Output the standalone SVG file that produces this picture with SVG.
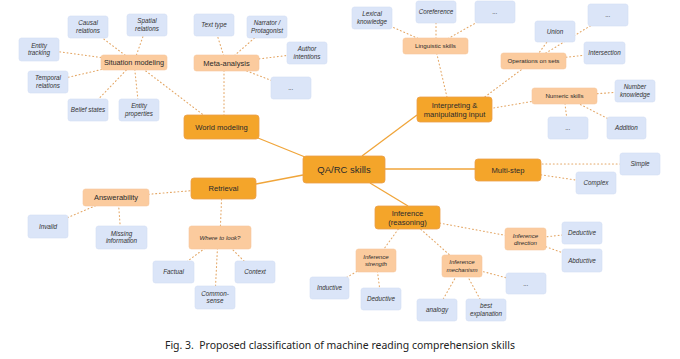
<svg xmlns="http://www.w3.org/2000/svg" width="680" height="359" viewBox="0 0 680 359">
<style>
text{font-family:"Liberation Sans",Arial,sans-serif;fill:#2a2a2a;text-anchor:middle}
.m rect{fill:#F4A52A;stroke:#EBA04A;stroke-width:0.8}
.m text{font-size:7.6px}
.s rect{fill:#FBCB9E;stroke:#F6C79E;stroke-width:0.6}
.s text{font-size:7.5px}
.s2 text{font-size:6.2px}
.si text{font-size:6.1px;font-style:italic}
.l rect{fill:#DBE5F8;stroke:#D3DEF4;stroke-width:0.6}
.l text{font-size:6.3px;font-style:italic;fill:#333}
.dot{stroke:#E4A868;stroke-width:1.1;stroke-dasharray:0.9 2.8;stroke-linecap:round;fill:none}
.sol{stroke:#F0A53A;stroke-width:1.3;fill:none}
.cap{font-family:"Noto Sans","Open Sans",sans-serif;font-size:10.5px;fill:#222;text-anchor:start}
</style>
<rect width="680" height="359" fill="#ffffff"/>
<g id="connectors">
<g class="sol">
<line x1="258" y1="138" x2="305" y2="157"/>
<line x1="417" y1="115" x2="362" y2="156"/>
<line x1="256" y1="184" x2="303" y2="175"/>
<line x1="385" y1="169" x2="475" y2="169"/>
<line x1="370" y1="183" x2="408" y2="206"/>
</g>
<g class="dot">
<line x1="134" y1="62" x2="88" y2="27"/>
<line x1="134" y1="62" x2="147" y2="25"/>
<line x1="134" y1="62" x2="39" y2="49"/>
<line x1="134" y1="62" x2="48" y2="82"/>
<line x1="134" y1="62" x2="88" y2="110"/>
<line x1="134" y1="62" x2="139" y2="110"/>
<line x1="134" y1="62" x2="210" y2="120"/>
<line x1="226" y1="63" x2="214" y2="25"/>
<line x1="226" y1="63" x2="267" y2="27"/>
<line x1="226" y1="63" x2="307" y2="53"/>
<line x1="226" y1="63" x2="291" y2="88"/>
<line x1="224" y1="63" x2="224" y2="127"/>
<line x1="435" y1="46" x2="372" y2="18"/>
<line x1="436" y1="46" x2="436" y2="12"/>
<line x1="435" y1="46" x2="495" y2="12"/>
<line x1="435" y1="46" x2="450" y2="110"/>
<line x1="533" y1="61" x2="555" y2="31"/>
<line x1="533" y1="61" x2="608" y2="15"/>
<line x1="533" y1="61" x2="604" y2="53"/>
<line x1="533" y1="61" x2="470" y2="108"/>
<line x1="564" y1="96" x2="635" y2="91"/>
<line x1="564" y1="96" x2="568" y2="128"/>
<line x1="564" y1="96" x2="626" y2="128"/>
<line x1="564" y1="96" x2="470" y2="112"/>
<line x1="520" y1="164" x2="640" y2="164"/>
<line x1="508" y1="170" x2="596" y2="183"/>
<line x1="407" y1="217" x2="525" y2="239"/>
<line x1="407" y1="217" x2="376" y2="260"/>
<line x1="407" y1="217" x2="462" y2="266"/>
<line x1="525" y1="239" x2="582" y2="233"/>
<line x1="525" y1="239" x2="582" y2="260"/>
<line x1="376" y1="260" x2="329" y2="288"/>
<line x1="376" y1="260" x2="381" y2="299"/>
<line x1="462" y1="266" x2="437" y2="310"/>
<line x1="462" y1="266" x2="486" y2="310"/>
<line x1="462" y1="266" x2="526" y2="283"/>
<line x1="223" y1="188" x2="116" y2="197"/>
<line x1="222" y1="188" x2="220" y2="237"/>
<line x1="116" y1="197" x2="48" y2="226"/>
<line x1="118" y1="197" x2="121" y2="237"/>
<line x1="220" y1="237" x2="173" y2="272"/>
<line x1="218" y1="237" x2="215" y2="297"/>
<line x1="220" y1="237" x2="255" y2="272"/>
</g>
</g>
<g id="qarc" class="m"><rect x="303" y="156" width="82" height="27" rx="3"/><text x="344" y="173" style="font-size:9.5px">QA/RC skills</text></g>
<g id="world" class="m"><rect x="184" y="115" width="75" height="24" rx="3"/><text x="221.5" y="129.7">World modeling</text></g>
<g id="interp" class="m"><rect x="417" y="97" width="75" height="25" rx="3"/><text x="454.5" y="107.5">Interpreting &amp;</text><text x="454.5" y="116.5">manipulating input</text></g>
<g id="retrieval" class="m"><rect x="191" y="178" width="65" height="21" rx="3"/><text x="223.5" y="191.2">Retrieval</text></g>
<g id="multistep" class="m"><rect x="475" y="159" width="66" height="22" rx="3"/><text x="508" y="172.7">Multi-step</text></g>
<g id="inference" class="m"><rect x="375" y="206" width="65" height="23" rx="3"/><text x="407.5" y="215.8">Inference</text><text x="407.5" y="224.8">(reasoning)</text></g>
<g id="situation" class="s"><rect x="101" y="55" width="66" height="15" rx="2.5"/><text x="134" y="65.2" style="font-size:7.3px">Situation modeling</text></g>
<g id="meta" class="s"><rect x="194" y="55" width="65" height="16" rx="2.5"/><text x="226.5" y="65.7">Meta-analysis</text></g>
<g id="answerability" class="s"><rect x="83" y="189" width="66" height="17" rx="2.5"/><text x="116" y="200.2">Answerability</text></g>
<g id="linguistic" class="s s2"><rect x="403" y="38" width="65" height="16" rx="2.5"/><text x="435.5" y="48.2">Linguistic skills</text></g>
<g id="ops" class="s s2"><rect x="501" y="53" width="65" height="16" rx="2.5"/><text x="533.5" y="63.2">Operations on sets</text></g>
<g id="numeric" class="s s2"><rect x="532" y="88" width="65" height="16" rx="2.5"/><text x="564.5" y="98.2">Numeric skills</text></g>
<g id="where" class="s si"><rect x="189" y="226" width="62" height="23" rx="2.5"/><text x="220" y="239.6">Where to look?</text></g>
<g id="infdir" class="s si"><rect x="505" y="228" width="41" height="22" rx="2.5"/><text x="525.5" y="237.5">Inference</text><text x="525.5" y="245">direction</text></g>
<g id="infstr" class="s si"><rect x="356" y="249" width="40" height="23" rx="2.5"/><text x="376" y="258.6">Inference</text><text x="376" y="266.2">strength</text></g>
<g id="infmech" class="s si"><rect x="442" y="255" width="40" height="22" rx="2.5"/><text x="462" y="264.2">Inference</text><text x="462" y="271.7">mechanism</text></g>
<g id="causal" class="l"><rect x="68" y="16" width="40" height="22" rx="2.5"/><text x="88" y="25.3">Causal</text><text x="88" y="32.8">relations</text></g>
<g id="spatial" class="l"><rect x="127" y="14" width="40" height="22" rx="2.5"/><text x="147" y="23.3">Spatial</text><text x="147" y="30.8">relations</text></g>
<g id="enttrack" class="l"><rect x="19" y="38" width="40" height="23" rx="2.5"/><text x="39" y="47.6">Entity</text><text x="39" y="55.1">tracking</text></g>
<g id="temporal" class="l"><rect x="28" y="71" width="40" height="22" rx="2.5"/><text x="48" y="80.3">Temporal</text><text x="48" y="87.8">relations</text></g>
<g id="belief" class="l"><rect x="68" y="99" width="40" height="22" rx="2.5"/><text x="88" y="112.2">Belief states</text></g>
<g id="entprop" class="l"><rect x="119" y="99" width="40" height="22" rx="2.5"/><text x="139" y="108.3">Entity</text><text x="139" y="115.8">properties</text></g>
<g id="texttype" class="l"><rect x="194" y="14" width="40" height="22" rx="2.5"/><text x="214" y="27.2">Text type</text></g>
<g id="narrator" class="l"><rect x="247" y="16" width="40" height="22" rx="2.5"/><text x="267" y="25.3">Narrator /</text><text x="267" y="32.8">Protagonist</text></g>
<g id="author" class="l"><rect x="287" y="42" width="40" height="22" rx="2.5"/><text x="307" y="51.3">Author</text><text x="307" y="58.8">intentions</text></g>
<g id="metaetc" class="l"><rect x="271" y="77" width="40" height="22" rx="2.5"/><text x="291" y="90.2">...</text></g>
<g id="lexical" class="l"><rect x="352" y="7" width="40" height="22" rx="2.5"/><text x="372" y="16.3">Lexical</text><text x="372" y="23.8">knowledge</text></g>
<g id="coref" class="l"><rect x="416" y="1" width="40" height="22" rx="2.5"/><text x="436" y="14.2">Coreference</text></g>
<g id="lingetc" class="l"><rect x="475" y="1" width="40" height="22" rx="2.5"/><text x="495" y="14.2">...</text></g>
<g id="union" class="l"><rect x="535" y="21" width="40" height="21" rx="2.5"/><text x="555" y="33.7">Union</text></g>
<g id="opsetc" class="l"><rect x="588" y="4" width="40" height="22" rx="2.5"/><text x="608" y="17.2">...</text></g>
<g id="intersection" class="l"><rect x="584" y="42" width="41" height="22" rx="2.5"/><text x="604.5" y="55.2">Intersection</text></g>
<g id="numknow" class="l"><rect x="615" y="80" width="40" height="22" rx="2.5"/><text x="635" y="89.3">Number</text><text x="635" y="96.8">knowledge</text></g>
<g id="numetc" class="l"><rect x="548" y="117" width="40" height="22" rx="2.5"/><text x="568" y="130.2">...</text></g>
<g id="addition" class="l"><rect x="607" y="117" width="39" height="22" rx="2.5"/><text x="626.5" y="130.2">Addition</text></g>
<g id="simple" class="l"><rect x="620" y="153" width="40" height="22" rx="2.5"/><text x="640" y="166.2">Simple</text></g>
<g id="complex" class="l"><rect x="576" y="172" width="40" height="22" rx="2.5"/><text x="596" y="185.2">Complex</text></g>
<g id="deductive1" class="l"><rect x="562" y="222" width="40" height="22" rx="2.5"/><text x="582" y="235.2">Deductive</text></g>
<g id="abductive" class="l"><rect x="562" y="249" width="40" height="23" rx="2.5"/><text x="582" y="262.7">Abductive</text></g>
<g id="inductive" class="l"><rect x="310" y="277" width="39" height="22" rx="2.5"/><text x="329.5" y="290.2">Inductive</text></g>
<g id="deductive2" class="l"><rect x="361" y="288" width="40" height="22" rx="2.5"/><text x="381" y="301.2">Deductive</text></g>
<g id="analogy" class="l"><rect x="417" y="299" width="40" height="22" rx="2.5"/><text x="437" y="312.2">analogy</text></g>
<g id="bestexp" class="l"><rect x="466" y="299" width="40" height="22" rx="2.5"/><text x="486" y="308.3">best</text><text x="486" y="315.8">explanation</text></g>
<g id="mechetc" class="l"><rect x="506" y="273" width="40" height="21" rx="2.5"/><text x="526" y="285.7">...</text></g>
<g id="invalid" class="l"><rect x="28" y="215" width="40" height="23" rx="2.5"/><text x="48" y="228.7">Invalid</text></g>
<g id="missing" class="l"><rect x="96" y="226" width="51" height="23" rx="2.5"/><text x="121.5" y="235.6">Missing</text><text x="121.5" y="243.1">information</text></g>
<g id="factual" class="l"><rect x="153" y="261" width="41" height="22" rx="2.5"/><text x="173.5" y="274.2">Factual</text></g>
<g id="commonsense" class="l"><rect x="195" y="286" width="40" height="23" rx="2.5"/><text x="215" y="295.6">Common-</text><text x="215" y="303.1">sense</text></g>
<g id="context" class="l"><rect x="235" y="261" width="40" height="22" rx="2.5"/><text x="255" y="274.2">Context</text></g>
<text class="cap" x="165" y="349" textLength="350" lengthAdjust="spacingAndGlyphs">Fig. 3.&#160; Proposed classification of machine reading comprehension skills</text>
</svg>
